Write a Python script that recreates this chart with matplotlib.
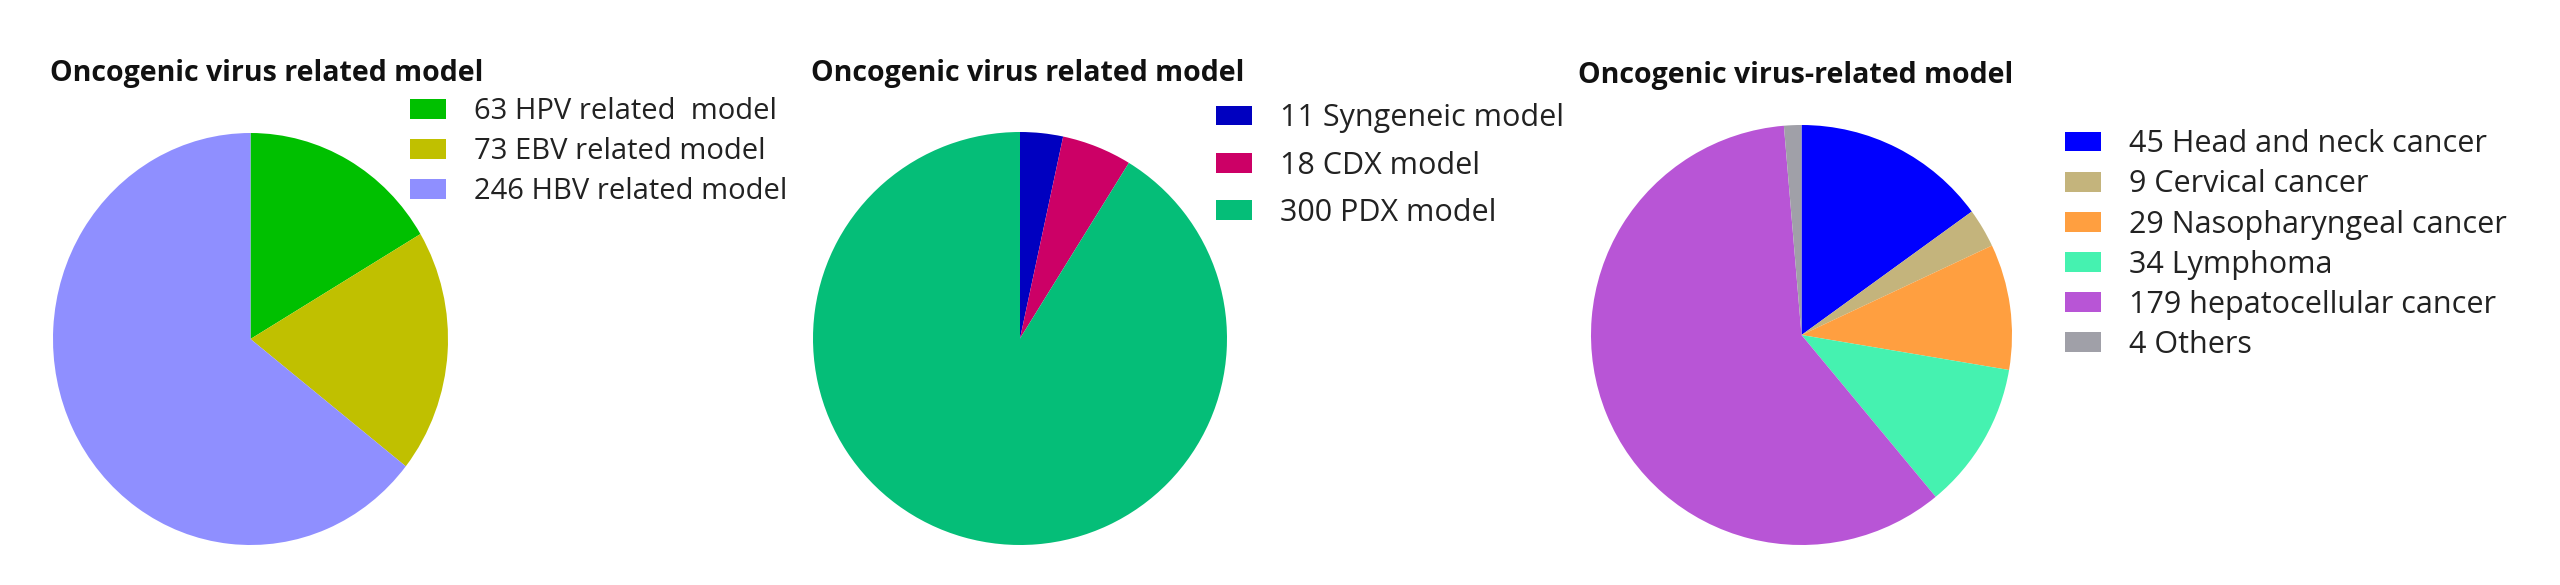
import matplotlib
matplotlib.use('Agg')
import matplotlib.pyplot as plt

plt.rcParams['font.family'] = ['Open Sans', 'DejaVu Sans']

# -------------------------
# DATA
# -------------------------
title_1 = "Oncogenic virus related model"
counts_1 = [63, 73, 246]
names_1 = ["HPV related  model", "EBV related model", "HBV related model"]
colors_1 = ['#00C000', '#C0C000', '#8F8FFF']

title_2 = "Oncogenic virus related model"
counts_2 = [11, 18, 300]
names_2 = ["Syngeneic model", "CDX model", "PDX model"]
colors_2 = ['#0000C0', '#CC0066', '#05BE78']

title_3 = "Oncogenic virus-related model"
counts_3 = [45, 9, 29, 34, 179, 4]
names_3 = ["Head and neck cancer", "Cervical cancer", "Nasopharyngeal cancer",
           "Lymphoma", "hepatocellular cancer", "Others"]
colors_3 = ['#0000FF', '#C4B47C', '#FF9F40', '#45F2B0', '#B855D6', '#A0A0A8']

W, H = 2560, 585
fig = plt.figure(figsize=(W / 100, H / 100), dpi=100)


def px_axes(x0, x1, y0, y1):
    # pixel box (top-down y) -> figure axes
    return fig.add_axes([x0 / W, 1 - y1 / H, (x1 - x0) / W, (y1 - y0) / H])


def draw_pie(box, counts, names, colors, title, title_xy, leg_xy, fs, pitch):
    ax = px_axes(*box)
    wedges, _ = ax.pie(counts, colors=colors, startangle=90, counterclock=False,
                       wedgeprops=dict(linewidth=0))
    ax.set_xlim(-1, 1)
    ax.set_ylim(-1, 1)
    ax.set_aspect('auto')
    ax.axis('off')
    fig.text(title_xy[0] / W, 1 - title_xy[1] / H, title, fontsize=20.5,
             fontweight='bold', va='center', ha='left', color='#111111')

    fs_px = fs * 100 / 72
    labels = [f"{c} {n}" for c, n in zip(counts, names)]
    fig.legend(wedges, labels, loc='upper left',
               bbox_to_anchor=(leg_xy[0] / W, 1 - (leg_xy[1] - 0.48 * fs_px) / H),
               frameon=False, fontsize=fs,
               handlelength=36 / fs_px, handleheight=19 / fs_px,
               handletextpad=28 / fs_px,
               labelspacing=(pitch - 0.96 * fs_px) / fs_px,
               borderpad=0, borderaxespad=0, labelcolor='#222222')


draw_pie((53, 448, 133, 545), counts_1, names_1, colors_1, title_1,
         (50, 74), (410, 111), 21, 39)
draw_pie((813, 1227, 132, 545), counts_2, names_2, colors_2, title_2,
         (811, 74), (1216, 118), 22, 46.5)
draw_pie((1591, 2012, 125, 545), counts_3, names_3, colors_3, title_3,
         (1578, 75), (2065, 144), 22, 39.5)

fig.savefig('out.png', dpi=100, facecolor='white')
